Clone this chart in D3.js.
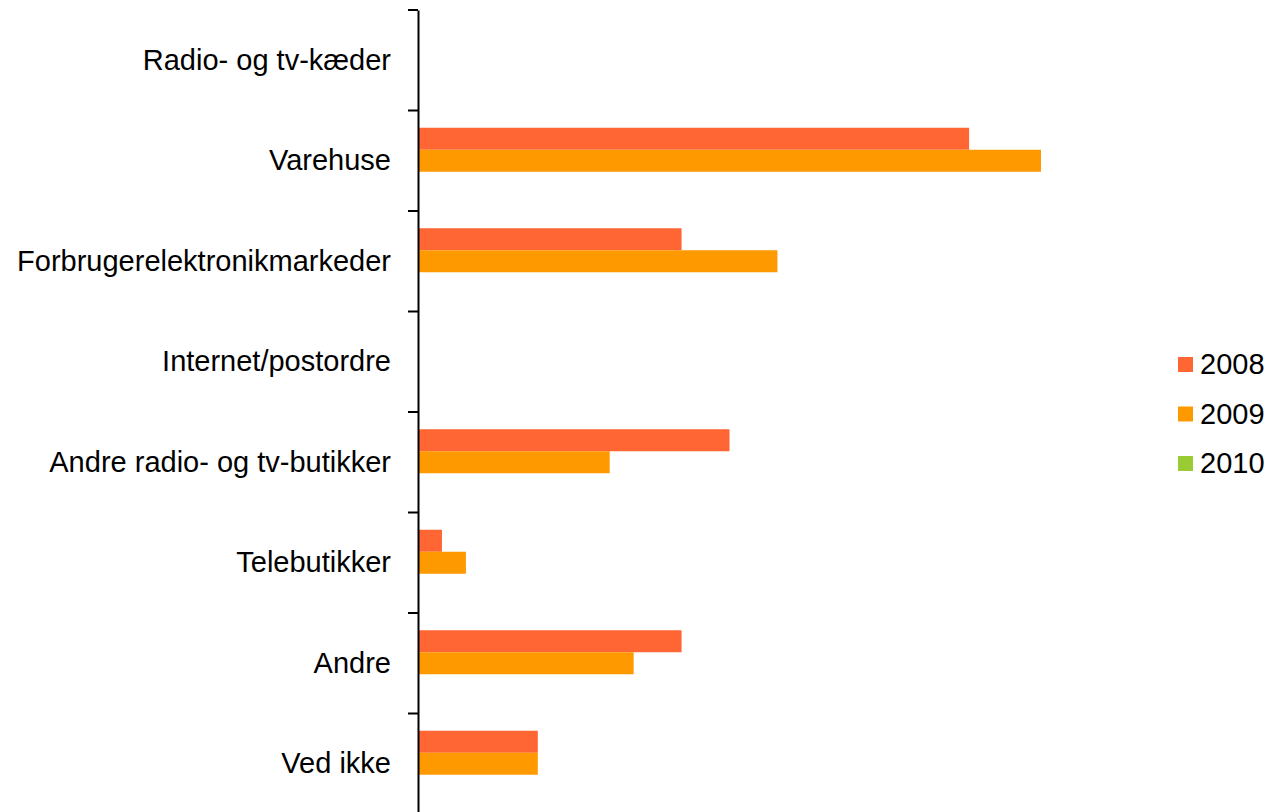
<!DOCTYPE html>
<html>
<head>
<meta charset="utf-8">
<script src="https://cdn.jsdelivr.net/npm/d3@7"></script>
<style>
  body { margin: 0; background: #fff; }
  svg { font-family: "Liberation Sans", Arial, sans-serif; }
</style>
</head>
<body>
<div id="container"></div>
<script>
// categories top to bottom
let categories = ["Radio- og tv-kæder", "Varehuse", "Forbrugerelektronikmarkeder", "Internet/postordre",
  "Andre radio- og tv-butikker", "Telebutikker", "Andre", "Ved ikke"];
let years = ["2008", "2009", "2010"];
let values2008 = [0, 23, 11, 0, 13, 1, 11, 5];
let values2009 = [0, 26, 15, 0, 8, 2, 9, 5];
let values2010 = [0, 0, 0, 0, 0, 0, 0, 0];
let colors = ["#FF6633", "#FF9900", "#99CC33"];

let width = 1271;
let height = 812;

let svg = d3.select("#container")
  .append("svg")
  .attr("width", width)
  .attr("height", height);

//scales
let x = d3.scaleLinear().domain([0, 26]).range([418, 1041]);
let y = d3.scaleBand().domain(categories).range([10, 814]);

let barH = 22;
let series = [values2008, values2009, values2010];

// three bars per group, 2010 slot is empty (zero)
series.forEach((vals, s) => {
  svg.selectAll(".bar" + s)
    .data(vals)
    .enter()
    .append("rect")
    .attr("x", x(0))
    .attr("y", (d, i) => y(categories[i]) + y.bandwidth() / 2 - 1.5 * barH + s * barH)
    .attr("width", d => x(d) - x(0))
    .attr("height", barH)
    .attr("fill", colors[s]);
});

//axis
let axis = svg.append("g")
  .attr("transform", "translate(" + x(0) + ",0)")
  .call(d3.axisLeft(y).tickSize(0).tickPadding(27));
axis.select(".domain").attr("stroke", "#000").attr("stroke-width", 2);
axis.selectAll("text").attr("font-size", 29).attr("fill", "#000")
  .attr("font-family", "'Liberation Sans', Arial, sans-serif");

// tick marks between categories
let tickPos = categories.map(c => y(c)).concat([y.range()[1]]);
svg.selectAll(".tk")
  .data(tickPos)
  .enter()
  .append("line")
  .attr("x1", x(0) - 10)
  .attr("x2", x(0))
  .attr("y1", d => d)
  .attr("y2", d => d)
  .attr("stroke", "#000")
  .attr("stroke-width", 2);

//legend
let legend = svg.selectAll(".lg")
  .data(years)
  .enter()
  .append("g")
  .attr("transform", (d, i) => "translate(1178," + (357 + i * 49.5) + ")");
legend.append("rect")
  .attr("width", 15)
  .attr("height", 15)
  .attr("fill", (d, i) => colors[i]);
legend.append("text")
  .attr("x", 22)
  .attr("y", 17)
  .attr("font-size", 29)
  .text(d => d);
</script>
</body>
</html>
